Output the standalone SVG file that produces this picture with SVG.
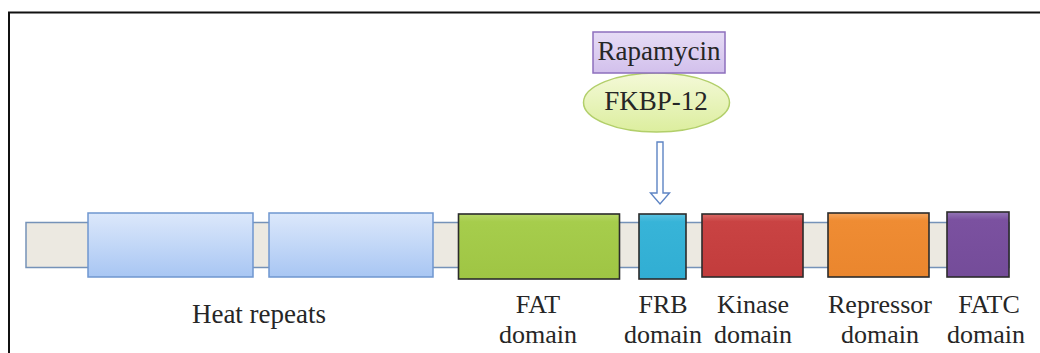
<svg xmlns="http://www.w3.org/2000/svg" width="1040" height="353" viewBox="0 0 1040 353">
  <style>
    .lbl { font-family: "Liberation Serif", "Times New Roman", serif; font-size: 26px; fill: #262626; text-anchor: middle; }
    .big { font-size: 27px; }
    .dom { stroke: #2b2b2b; stroke-width: 1.6; }
    .heat { fill: url(#gHeat); stroke: #6f96cf; stroke-width: 1.5; }
  </style>
  <defs>
    <linearGradient id="gHeat" x1="0" y1="0" x2="0" y2="1">
      <stop offset="0" stop-color="#dce8fb"/>
      <stop offset="1" stop-color="#a8c6f3"/>
    </linearGradient>
    <linearGradient id="gFat" x1="0" y1="0" x2="0" y2="1">
      <stop offset="0" stop-color="#b7d768"/>
      <stop offset="0.12" stop-color="#a6cd4c"/>
      <stop offset="1" stop-color="#9fc544"/>
    </linearGradient>
    <linearGradient id="gFrb" x1="0" y1="0" x2="0" y2="1">
      <stop offset="0" stop-color="#5cc3e2"/>
      <stop offset="0.12" stop-color="#37b4d8"/>
      <stop offset="1" stop-color="#31aed3"/>
    </linearGradient>
    <linearGradient id="gKin" x1="0" y1="0" x2="0" y2="1">
      <stop offset="0" stop-color="#da6a66"/>
      <stop offset="0.12" stop-color="#c94343"/>
      <stop offset="1" stop-color="#c23c3c"/>
    </linearGradient>
    <linearGradient id="gRep" x1="0" y1="0" x2="0" y2="1">
      <stop offset="0" stop-color="#f5a660"/>
      <stop offset="0.12" stop-color="#ef8c33"/>
      <stop offset="1" stop-color="#ea862e"/>
    </linearGradient>
    <linearGradient id="gFatc" x1="0" y1="0" x2="0" y2="1">
      <stop offset="0" stop-color="#9476b6"/>
      <stop offset="0.12" stop-color="#7b51a0"/>
      <stop offset="1" stop-color="#744c99"/>
    </linearGradient>
    <linearGradient id="gEll" x1="0" y1="0" x2="0" y2="1">
      <stop offset="0" stop-color="#f4f9d8"/>
      <stop offset="1" stop-color="#dcee9e"/>
    </linearGradient>
    <linearGradient id="gRapa" x1="0" y1="0" x2="0" y2="1">
      <stop offset="0" stop-color="#e6dcf5"/>
      <stop offset="1" stop-color="#d2c0ec"/>
    </linearGradient>
  </defs>

  <rect x="0" y="0" width="1040" height="353" fill="#ffffff"/>
  <polyline points="9,353 9,12.5 1040,12.5" fill="none" stroke="#111" stroke-width="2"/>

  <g id="backbone">
    <rect x="26" y="222.5" width="983" height="45" fill="#ece9e1" stroke="#7592b8" stroke-width="1.5"/>
  </g>

  <g id="heat-repeat-1"><rect class="heat" x="88" y="213" width="165" height="64"/></g>
  <g id="heat-repeat-2"><rect class="heat" x="269" y="213" width="164" height="64"/></g>
  <g id="heat-label"><text class="lbl big" x="259" y="323">Heat repeats</text></g>

  <g id="fat">
    <rect class="dom" x="458.5" y="214" width="161" height="65" fill="url(#gFat)"/>
    <text class="lbl"><tspan x="538" y="313">FAT</tspan><tspan x="538" y="343">domain</tspan></text>
  </g>
  <g id="frb">
    <rect class="dom" x="639" y="214" width="47" height="65" fill="url(#gFrb)"/>
    <text class="lbl"><tspan x="663" y="313">FRB</tspan><tspan x="663" y="343">domain</tspan></text>
  </g>
  <g id="kinase">
    <rect class="dom" x="702" y="214" width="101" height="63" fill="url(#gKin)"/>
    <text class="lbl"><tspan x="753" y="313">Kinase</tspan><tspan x="753" y="343">domain</tspan></text>
  </g>
  <g id="repressor">
    <rect class="dom" x="828" y="213" width="101" height="64" fill="url(#gRep)"/>
    <text class="lbl"><tspan x="880" y="313">Repressor</tspan><tspan x="880" y="343">domain</tspan></text>
  </g>
  <g id="fatc">
    <rect class="dom" x="947" y="212" width="62" height="65" fill="url(#gFatc)"/>
    <text class="lbl"><tspan x="989" y="313">FATC</tspan><tspan x="986" y="343">domain</tspan></text>
  </g>

  <g id="fkbp12">
    <ellipse cx="656.5" cy="102.5" rx="73" ry="29.5" fill="url(#gEll)" stroke="#b2cf6a" stroke-width="1.5"/>
    <text class="lbl big" x="656" y="110">FKBP-12</text>
  </g>
  <g id="rapamycin">
    <rect x="593" y="32" width="132" height="41" fill="url(#gRapa)" stroke="#8d6fbd" stroke-width="1.5"/>
    <text class="lbl big" x="659" y="60">Rapamycin</text>
  </g>

  <g id="connectors">
    <path d="M657,142 L663,142 L663,193 L669.5,193 L660,204 L650.5,193 L657,193 Z" fill="#ffffff" stroke="#5d84c4" stroke-width="1.4" stroke-linejoin="miter"/>
  </g>
</svg>
